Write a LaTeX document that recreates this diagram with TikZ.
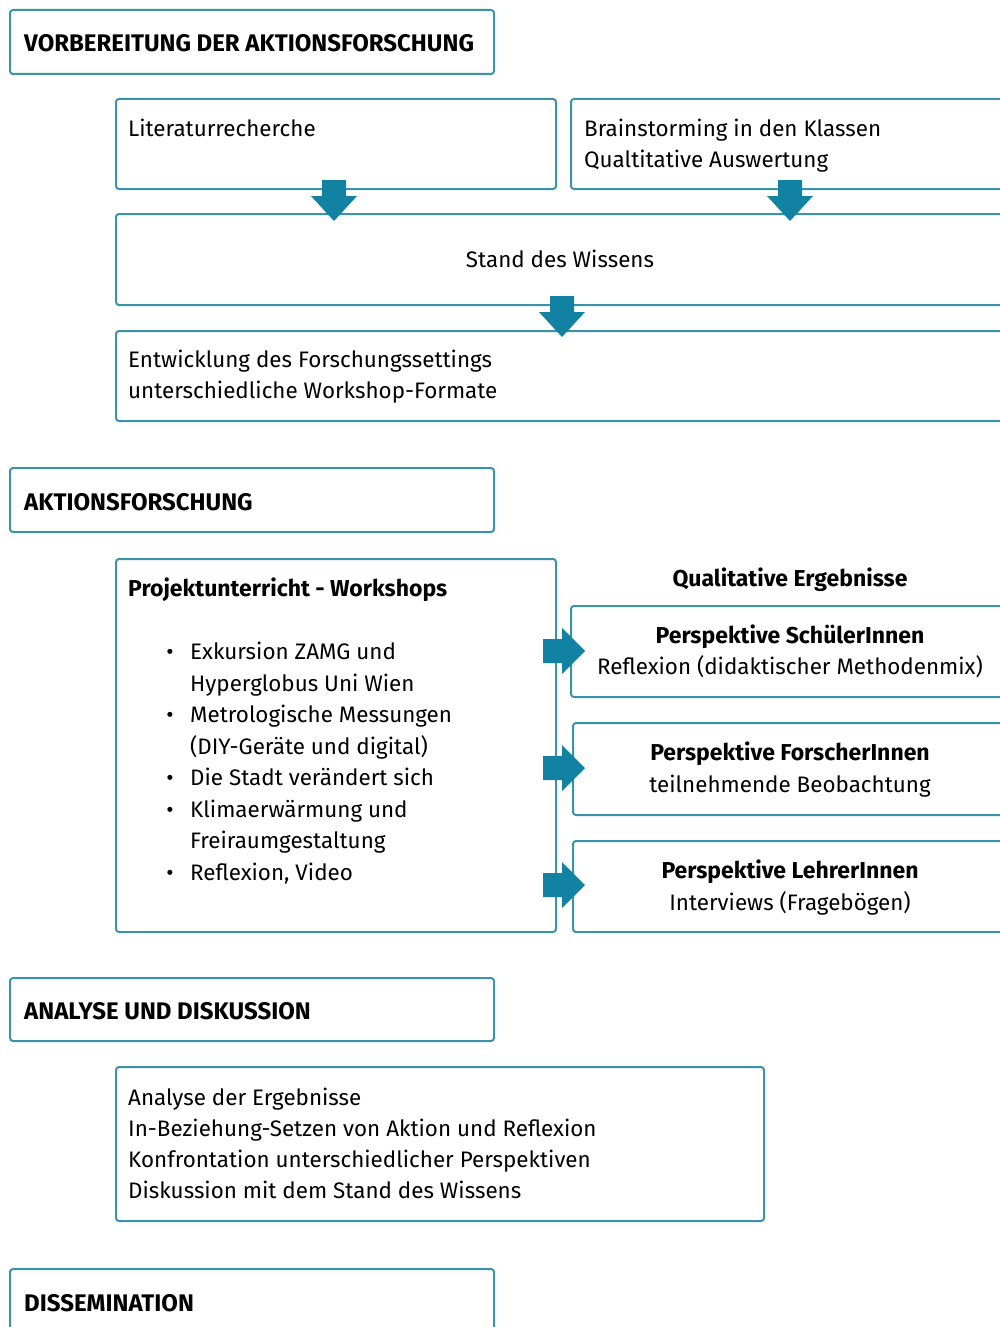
\documentclass[tikz,border=0pt]{standalone}
\usepackage{fontspec}
\setmainfont{Fira Sans}
\usetikzlibrary{positioning}

\definecolor{rahmen}{HTML}{3A93A6}
\definecolor{pfeil}{HTML}{1282A2}

\tikzset{
    box/.style={draw=rahmen, line width=2pt, rounded corners=3pt, anchor=north west, inner sep=0pt},
    head/.style={anchor=base west, inner sep=0pt, font=\fontsize{24}{31}\selectfont\bfseries},
    txt/.style={anchor=base west, inner sep=0pt, font=\fontsize{22.4}{31}\selectfont},
    mid/.style={anchor=base, inner sep=0pt, font=\fontsize{22.4}{31}\selectfont},
    fett/.style={font=\fontsize{23}{31}\selectfont\bfseries},
    pdown/.style={fill=pfeil},
}

\begin{document}
\begin{tikzpicture}[x=1pt, y=-1pt]
    \useasboundingbox (0,0) rectangle (1000,1327);
    \clip (0,0) rectangle (1000,1327);

    % Vorbereitung
    \node[box, minimum width=484pt, minimum height=64pt] (kopf1) at (9,9) {};
    \node[head] (kopf1t) at (24,52) {VORBEREITUNG DER AKTIONSFORSCHUNG};

    \node[box, minimum width=440pt, minimum height=90pt] (lit) at (115,98) {};
    \node[txt] (litt) at (128,136) {Literaturrecherche};
    \node[box, minimum width=440pt, minimum height=90pt] (brain) at (570,98) {};
    \node[txt] (brain1) at (584,136) {Brainstorming in den Klassen};
    \node[txt] (brain2) at (584,167) {Qualtitative Auswertung};

    \node[box, minimum width=900pt, minimum height=91pt] (stand) at (115,213) {};
    \node[mid] (standt) at (560,267) {Stand des Wissens};

    \node[box, minimum width=900pt, minimum height=90pt] (entw) at (115,330) {};
    \node[txt] (entw1) at (128,367) {Entwicklung des Forschungssettings};
    \node[txt] (entw2) at (128,398) {unterschiedliche Workshop-Formate};

    % Aktionsforschung
    \node[box, minimum width=484pt, minimum height=64pt] (kopf2) at (9,467) {};
    \node[head] (kopf2t) at (24,510) {AKTIONSFORSCHUNG};

    \node[box, minimum width=440pt, minimum height=373pt] (proj) at (115,558) {};
    \node[txt, fett] (projt) at (128,596) {Projektunterricht - Workshops};
    \foreach \y/\b/\t in {659/1/Exkursion ZAMG und, 691/0/Hyperglobus Uni Wien,
                          722/1/Metrologische Messungen, 754/0/(DIY-Geräte und digital),
                          785/1/Die Stadt verändert sich, 817/1/Klimaerwärmung und,
                          848/0/Freiraumgestaltung, 880/1/{Reflexion, Video}}
    {
        \node[txt] (li\y) at (190,\y) {\t};
        \ifnum\b=1 \node[mid] (bu\y) at (170,\y) {\textbullet}; \fi
    }

    \node[mid, fett] (qual) at (790,586) {Qualitative Ergebnisse};

    \node[box, minimum width=440pt, minimum height=91pt] (p1) at (570,605) {};
    \node[mid, fett] (p1a) at (790,643) {Perspektive SchülerInnen};
    \node[mid] (p1b) at (790,674) {Reflexion (didaktischer Methodenmix)};
    \node[box, minimum width=440pt, minimum height=92pt] (p2) at (572,722) {};
    \node[mid, fett] (p2a) at (790,760) {Perspektive ForscherInnen};
    \node[mid] (p2b) at (790,792) {teilnehmende Beobachtung};
    \node[box, minimum width=440pt, minimum height=91pt] (p3) at (572,840) {};
    \node[mid, fett] (p3a) at (790,878) {Perspektive LehrerInnen};
    \node[mid] (p3b) at (790,910) {Interviews (Fragebögen)};

    % Analyse
    \node[box, minimum width=484pt, minimum height=63pt] (kopf3) at (9,977) {};
    \node[head] (kopf3t) at (24,1019) {ANALYSE UND DISKUSSION};

    \node[box, minimum width=648pt, minimum height=154pt] (ana) at (115,1066) {};
    \foreach \y/\t in {1105/Analyse der Ergebnisse, 1136/In-Beziehung-Setzen von Aktion und Reflexion,
                       1167/Konfrontation unterschiedlicher Perspektiven, 1198/Diskussion mit dem Stand des Wissens}
        \node[txt] (an\y) at (128,\y) {\t};

    % Dissemination
    \node[box, minimum width=484pt, minimum height=90pt] (kopf4) at (9,1268) {};
    \node[head] (kopf4t) at (24,1311) {DISSEMINATION};

    % Block arrows
    \coordinate (d1) at (334,180); % lit -> stand
    \coordinate (d2) at (790,180); % brain -> stand
    \coordinate (d3) at (562,296); % stand -> entw
    \foreach \c in {d1,d2,d3}
        \fill[pdown] (\c) ++(-12,0) -- ++(24,0) -- ++(0,16) -- ++(11,0) -- ++(-23,25) -- ++(-23,-25) -- ++(11,0) -- cycle;

    \coordinate (r1) at (543,651); % proj -> p1
    \coordinate (r2) at (543,768); % proj -> p2
    \coordinate (r3) at (543,885); % proj -> p3
    \foreach \c in {r1,r2,r3}
        \fill[pdown] (\c) ++(0,-12) -- ++(19,0) -- ++(0,-11) -- ++(23,23) -- ++(-23,23) -- ++(0,-11) -- ++(-19,0) -- cycle;
\end{tikzpicture}
\end{document}
